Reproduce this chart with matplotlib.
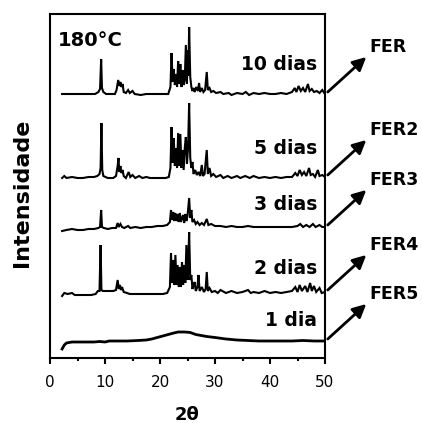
import numpy as np
import matplotlib
matplotlib.use("Agg")
import matplotlib.pyplot as plt
from matplotlib.ticker import MultipleLocator

plt.rcParams['font.family'] = ['DejaVu Sans']

# (2theta, intensity) read per sample, intensity in arbitrary units
dias_10 = [(2.2, 0), (5.0, 0), (8.2, 0), (8.8, 2), (9.1, 5), (9.3, 35), (9.45, 6), (9.7, 2), (10.2, 0),
           (11.8, 0), (12.1, 4), (12.4, 14), (12.6, 8), (12.8, 12), (13.0, 7), (13.2, 10), (13.4, 2),
           (13.8, 1), (14.2, 4), (14.5, 1), (15.0, 3), (15.4, 0), (16.5, -1), (17.5, 0), (18.5, 0),
           (19.5, 0), (20.5, 0), (21.5, 0), (21.9, 7), (22.1, 41), (22.3, 12), (22.5, 25), (22.7, 9),
           (22.9, 20), (23.1, 7), (23.3, 33), (23.5, 10), (23.7, 30), (23.9, 7), (24.1, 24), (24.3, 9),
           (24.5, 14), (24.7, 49), (24.9, 10), (25.0, 44), (25.15, 18), (25.3, 67), (25.5, 17),
           (25.7, 7), (25.9, 3), (26.1, 6), (26.3, 2), (26.6, 7), (26.9, 3), (27.1, 11), (27.3, 2),
           (27.6, 6), (27.9, 2), (28.2, 4), (28.5, 22), (28.7, 4), (29.0, 6), (29.3, 2), (29.7, 3),
           (30.2, 1), (31.0, 2), (31.5, 0), (32.5, 1), (33.0, -1), (34.0, 1), (35.0, 0), (35.6, 2),
           (36.2, -1), (37.0, 1), (38.0, 0), (39.0, 1), (40.0, 0), (41.0, 0), (42.0, 1), (43.0, 0),
           (44.0, 2), (44.5, 6), (44.8, 2), (45.2, 8), (45.6, 3), (46.0, 6), (46.4, 2), (46.9, 10),
           (47.2, 3), (47.6, 5), (48.0, 2), (48.5, 3), (49.0, 1), (49.5, 4), (50.0, 0)]

dias_5 = [(2.2, 0), (2.6, 2), (3.0, 0), (4.0, 1), (5.0, 0), (6.0, 0), (7.0, 1), (8.0, 1), (8.6, 2),
          (9.0, 4), (9.2, 10), (9.35, 55), (9.5, 8), (9.7, 2), (10.5, 0), (11.5, 0), (12.0, 2),
          (12.3, 12), (12.45, 20), (12.6, 6), (12.8, 12), (13.0, 5), (13.2, 8), (13.4, 2), (13.8, 0),
          (14.3, 6), (14.6, 1), (15.0, 3), (15.5, 0), (16.2, 2), (16.8, 0), (17.5, 1), (18.2, 0),
          (19.0, 0), (20.0, 0), (21.0, 0), (21.6, 1), (21.9, 10), (22.1, 51), (22.3, 15), (22.5, 40),
          (22.7, 12), (22.9, 30), (23.1, 10), (23.3, 45), (23.5, 12), (23.7, 44), (23.9, 10),
          (24.1, 28), (24.3, 8), (24.5, 30), (24.7, 41), (24.9, 14), (25.1, 30), (25.3, 75),
          (25.5, 20), (25.7, 10), (25.9, 16), (26.1, 4), (26.4, 8), (26.7, 3), (27.0, 6), (27.3, 2),
          (27.6, 13), (27.8, 2), (28.1, 4), (28.5, 28), (28.7, 4), (29.0, 10), (29.3, 2), (29.7, 4),
          (30.2, 1), (31.0, 3), (31.5, 0), (32.3, 2), (33.0, 0), (34.0, 2), (34.6, 0), (35.5, 2),
          (36.3, 0), (37.0, 2), (38.0, 0), (39.0, 1), (40.0, 0), (41.0, 1), (42.0, 0), (43.0, 1),
          (44.0, 1), (44.6, 5), (45.0, 2), (45.4, 8), (45.8, 3), (46.2, 6), (46.6, 2), (47.1, 10),
          (47.4, 3), (47.8, 4), (48.2, 1), (48.7, 8), (49.0, 2), (49.5, 3), (50.0, 1)]

dias_3 = [(2.2, -1), (3.0, 0), (4.0, 1), (5.0, 0), (6.0, 0), (7.0, 1), (8.0, 1), (8.8, 2), (9.1, 3),
          (9.3, 20), (9.45, 3), (9.8, 2), (10.5, 1), (11.3, 2), (12.0, 2), (12.3, 7), (12.5, 3),
          (12.8, 6), (13.1, 3), (13.5, 2), (14.2, 4), (14.6, 2), (15.5, 3), (16.5, 2), (17.5, 3),
          (18.5, 3), (19.5, 4), (20.5, 4), (21.3, 5), (21.8, 8), (22.0, 20), (22.2, 10), (22.4, 18),
          (22.6, 9), (22.8, 17), (23.0, 9), (23.2, 16), (23.4, 8), (23.6, 17), (23.8, 8), (24.0, 12),
          (24.2, 15), (24.4, 7), (24.6, 16), (24.8, 9), (25.0, 14), (25.3, 32), (25.5, 12),
          (25.7, 20), (25.9, 8), (26.2, 10), (26.5, 6), (26.8, 8), (27.2, 5), (27.6, 7), (28.0, 5),
          (28.5, 11), (28.8, 5), (29.3, 6), (30.0, 4), (31.0, 4), (32.0, 3), (33.0, 4), (34.0, 3),
          (35.0, 3), (36.0, 4), (37.0, 3), (38.0, 3), (39.0, 3), (40.0, 3), (41.0, 3), (42.0, 3),
          (43.0, 3), (44.0, 3), (45.0, 4), (45.5, 6), (46.0, 3), (46.6, 5), (47.2, 3), (47.8, 6),
          (48.3, 3), (49.0, 5), (49.5, 3), (50.0, 3)]

dias_2 = [(2.2, -1), (2.6, 2), (3.2, 1), (4.0, 2), (4.5, 0), (5.5, 0), (6.5, 0), (7.5, 0), (8.3, 1),
          (8.7, 4), (9.0, 4), (9.2, 50), (9.35, 5), (9.6, 4), (10.5, 4), (11.5, 4), (12.0, 5),
          (12.3, 15), (12.5, 6), (12.7, 10), (12.9, 5), (13.1, 8), (13.4, 3), (14.0, 2), (14.5, 1),
          (15.5, 1), (16.5, 1), (17.5, 1), (18.5, 1), (19.5, 1), (20.5, 1), (21.3, 2), (21.8, 8),
          (22.0, 42), (22.2, 12), (22.4, 35), (22.6, 10), (22.8, 40), (23.0, 10), (23.2, 30),
          (23.4, 8), (23.6, 28), (23.8, 8), (24.0, 33), (24.2, 10), (24.4, 30), (24.6, 12),
          (24.8, 50), (25.0, 15), (25.15, 35), (25.3, 63), (25.5, 15), (25.7, 20), (25.9, 6),
          (26.1, 10), (26.3, 13), (26.5, 4), (26.8, 8), (27.0, 20), (27.2, 4), (27.6, 8), (28.0, 3),
          (28.3, 6), (28.5, 23), (28.7, 4), (29.0, 7), (29.4, 3), (30.0, 4), (30.5, 2), (31.0, 5),
          (32.0, 2), (33.0, 4), (34.0, 2), (35.0, 3), (36.0, 5), (36.5, 2), (37.0, 3), (38.0, 2),
          (39.0, 4), (40.0, 2), (41.0, 3), (42.0, 2), (43.0, 3), (44.0, 4), (44.6, 8), (45.0, 3),
          (45.4, 10), (45.8, 4), (46.4, 9), (46.8, 3), (47.3, 12), (47.6, 4), (48.0, 9), (48.4, 3),
          (49.0, 7), (49.4, 2), (50.0, 3)]

dia_1 = [(2.2, -1), (2.6, 3), (3.0, 5), (4.0, 6), (6.0, 6), (8.0, 6), (9.0, 6.5), (10.0, 6),
         (10.8, 7), (12.0, 7), (14.0, 7), (16.0, 7.5), (17.5, 8), (18.5, 9), (19.5, 10.5),
         (20.5, 12), (21.5, 13.5), (22.5, 15), (23.3, 16), (24.5, 16), (25.5, 15.5), (26.5, 13.5),
         (27.5, 12.5), (28.5, 11.5), (30.0, 10.5), (32.0, 9), (34.0, 8), (36.0, 7.5), (38.0, 7),
         (40.0, 7), (42.0, 7), (44.0, 7), (46.0, 7.5), (48.0, 7), (50.0, 7)]

series = [dias_10, dias_5, dias_3, dias_2, dia_1]
day_labels = ['10 dias', '5 dias', '3 dias', '2 dias', '1 dia']
sample_names = ['FER', 'FER2', 'FER3', 'FER4', 'FER5']
offsets = [264, 180, 128, 63, 10]
label_heights = [293, 210, 153, 90, 38]

fig = plt.figure(figsize=(4.22, 4.23), dpi=100)
ax = fig.add_axes([50 / 422, 65 / 423, 275 / 422, 344 / 423])

for data, off, lab, name, ly in zip(series, offsets, day_labels, sample_names, label_heights):
    tt, inten = np.array(data).T
    lw = 2.0 if name == 'FER5' else 1.5
    ax.plot(tt, inten + off, color='black', lw=lw, solid_joinstyle='miter')
    ax.text(48.6, ly, lab, ha='right', va='center', fontsize=13.5, fontweight='bold')
    # arrow from the end of the trace out to the sample name
    tail = (50.5, off + inten[-1] + 2)
    tip = (57.5, tail[1] + 35)
    ax.annotate('', xy=tip, xytext=tail, annotation_clip=False,
                arrowprops=dict(arrowstyle='-|>', lw=2, color='black', mutation_scale=20,
                                shrinkA=0, shrinkB=0))
    ax.text(tip[0] + 0.5, tip[1] + 10, name, ha='left', va='center', fontsize=12.5,
            fontweight='bold', clip_on=False)

ax.text(1.4, 318, '180°C', ha='left', va='center', fontsize=14, fontweight='bold')

ax.set_xlim(0, 50)
ax.set_ylim(0, 344)
ax.xaxis.set_major_locator(MultipleLocator(10))
ax.xaxis.set_minor_locator(MultipleLocator(5))
ax.set_yticks([])
ax.tick_params(axis='x', which='major', direction='out', length=4, width=1.5, labelsize=11, pad=8)
ax.tick_params(axis='x', which='minor', direction='out', length=2.5, width=1.5)
for sp in ax.spines.values():
    sp.set_linewidth(1.5)

ax.set_xlabel('2θ', fontsize=13, fontweight='bold')
ax.xaxis.set_label_coords(0.5, -0.14)
ax.set_ylabel('Intensidade', fontsize=16, fontweight='bold')
ax.yaxis.set_label_coords(-0.065, 0.48)

fig.savefig('out.png', dpi=100)
